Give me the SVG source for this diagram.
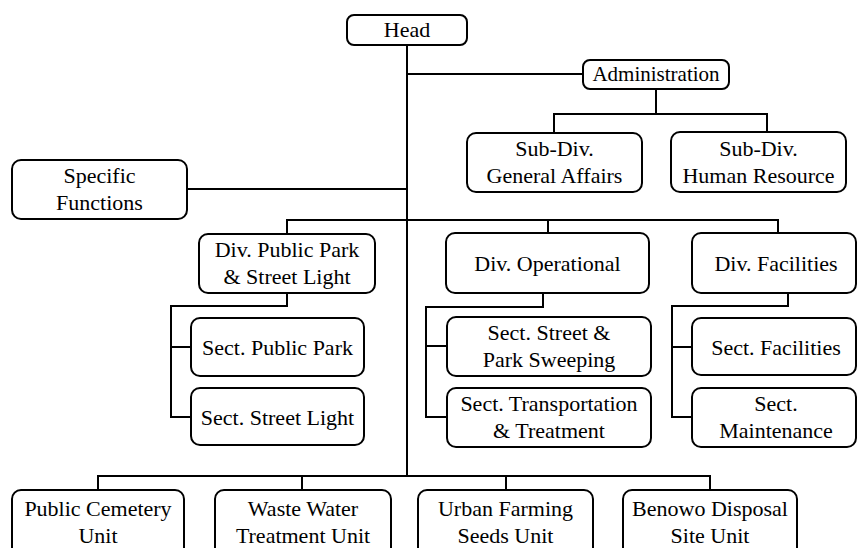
<svg xmlns="http://www.w3.org/2000/svg" width="857" height="548" viewBox="0 0 857 548">
  <style>
    .box { fill: #ffffff; stroke: #000000; stroke-width: 2; }
    .lbl { font-family: "Liberation Serif", "DejaVu Serif", serif; font-size: 22px; fill: #000000; text-anchor: middle; }
    .wire { fill: none; stroke: #000000; stroke-width: 2; }
  </style>
  <rect width="857" height="548" fill="#ffffff"/>

  <!-- connectors -->
  <g id="connectors" class="wire">
    <!-- main trunk -->
    <path d="M407 45 V476"/>
    <!-- administration branch -->
    <path d="M407 74 H583"/>
    <path d="M656 89 V114 M554 133 V114 H767 V132"/>
    <!-- specific functions -->
    <path d="M187 189 H407"/>
    <!-- divisions -->
    <path d="M287 234 V220 H778 V233 M548 220 V233"/>
    <!-- public park & street light sections -->
    <path d="M287 293 V306 H171 V417 H191 M171 347 H191"/>
    <!-- operational sections -->
    <path d="M543 293 V307 H426 V417 H447 M426 346 H447"/>
    <!-- facilities sections -->
    <path d="M788 293 V306 H672 V417 H692 M672 347 H692"/>
    <!-- units -->
    <path d="M98 490 V476 H710 V490 M302 476 V490 M506 476 V490"/>
  </g>

  <g id="head">
    <rect class="box" x="347" y="15" width="120" height="30" rx="7"/>
    <text class="lbl" x="407" y="37">Head</text>
  </g>

  <g id="administration">
    <rect class="box" x="583" y="60" width="146" height="29" rx="7"/>
    <text class="lbl" x="656" y="81" style="font-size:21px">Administration</text>
  </g>

  <g id="subdiv-general-affairs">
    <rect class="box" x="467" y="133" width="175" height="59" rx="9"/>
    <text class="lbl" x="554.5" y="156">Sub-Div.</text>
    <text class="lbl" x="554.5" y="183">General Affairs</text>
  </g>

  <g id="subdiv-human-resource">
    <rect class="box" x="671" y="132" width="175" height="60" rx="9"/>
    <text class="lbl" x="758.5" y="156">Sub-Div.</text>
    <text class="lbl" x="758.5" y="183">Human Resource</text>
  </g>

  <g id="specific-functions">
    <rect class="box" x="12" y="160" width="175" height="59" rx="9"/>
    <text class="lbl" x="99.5" y="183">Specific</text>
    <text class="lbl" x="99.5" y="210">Functions</text>
  </g>

  <g id="div-public-park">
    <rect class="box" x="199" y="234" width="176" height="59" rx="9"/>
    <text class="lbl" x="287" y="257">Div. Public Park</text>
    <text class="lbl" x="287" y="284">&amp; Street Light</text>
  </g>

  <g id="div-operational">
    <rect class="box" x="446" y="233" width="203" height="60" rx="9"/>
    <text class="lbl" x="547.5" y="271">Div. Operational</text>
  </g>

  <g id="div-facilities">
    <rect class="box" x="692" y="233" width="164" height="60" rx="9"/>
    <text class="lbl" x="776" y="271">Div. Facilities</text>
  </g>

  <g id="sect-public-park">
    <rect class="box" x="191" y="318" width="173" height="58" rx="9"/>
    <text class="lbl" x="277.5" y="355">Sect. Public Park</text>
  </g>

  <g id="sect-street-light">
    <rect class="box" x="191" y="388" width="173" height="57" rx="9"/>
    <text class="lbl" x="277.5" y="425">Sect. Street Light</text>
  </g>

  <g id="sect-street-park-sweeping">
    <rect class="box" x="447" y="317" width="204" height="59" rx="9"/>
    <text class="lbl" x="549" y="340">Sect. Street &amp;</text>
    <text class="lbl" x="549" y="367">Park Sweeping</text>
  </g>

  <g id="sect-transportation">
    <rect class="box" x="447" y="388" width="204" height="59" rx="9"/>
    <text class="lbl" x="549" y="411">Sect. Transportation</text>
    <text class="lbl" x="549" y="438">&amp; Treatment</text>
  </g>

  <g id="sect-facilities">
    <rect class="box" x="692" y="318" width="164" height="57" rx="9"/>
    <text class="lbl" x="776" y="355">Sect. Facilities</text>
  </g>

  <g id="sect-maintenance">
    <rect class="box" x="692" y="388" width="164" height="59" rx="9"/>
    <text class="lbl" x="776" y="411">Sect.</text>
    <text class="lbl" x="776" y="438">Maintenance</text>
  </g>

  <g id="public-cemetery-unit">
    <rect class="box" x="12" y="490" width="172" height="70" rx="9"/>
    <text class="lbl" x="98" y="516">Public Cemetery</text>
    <text class="lbl" x="98" y="543">Unit</text>
  </g>

  <g id="waste-water-unit">
    <rect class="box" x="215" y="490" width="176" height="70" rx="9"/>
    <text class="lbl" x="303" y="516">Waste Water</text>
    <text class="lbl" x="303" y="543">Treatment Unit</text>
  </g>

  <g id="urban-farming-unit">
    <rect class="box" x="418" y="490" width="175" height="70" rx="9"/>
    <text class="lbl" x="505.5" y="516">Urban Farming</text>
    <text class="lbl" x="505.5" y="543">Seeds Unit</text>
  </g>

  <g id="benowo-disposal-unit">
    <rect class="box" x="623" y="490" width="174" height="70" rx="9"/>
    <text class="lbl" x="710" y="516">Benowo Disposal</text>
    <text class="lbl" x="710" y="543">Site Unit</text>
  </g>
</svg>
